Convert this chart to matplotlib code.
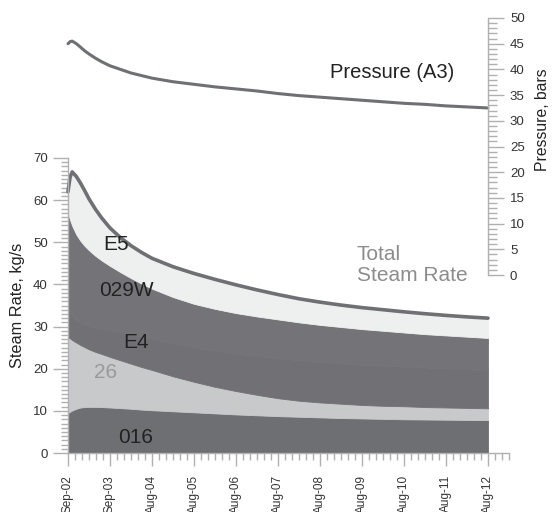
import matplotlib
matplotlib.use("Agg")
import matplotlib.pyplot as plt
from matplotlib.ticker import MultipleLocator, FixedLocator
import numpy as np

plt.rcParams['font.family'] = ['Liberation Sans', 'DejaVu Sans']

# time in years since Sep-02
t = [0, 0.05, 0.1, 0.2, 0.3, 0.4, 0.5, 0.65, 0.8, 1, 1.25, 1.5, 1.75, 2, 2.5,
     3, 3.5, 4, 4.5, 5, 5.5, 6, 6.5, 7, 7.5, 8, 8.5, 9, 9.5, 10]
# cumulative tops (kg/s)
top_016 = [9.5, 9.8, 10.1, 10.5, 10.8, 10.9, 10.95, 10.95, 10.9, 10.8, 10.65, 10.5, 10.3, 10.15, 9.9,
           9.65, 9.4, 9.15, 8.95, 8.75, 8.6, 8.45, 8.3, 8.2, 8.1, 8.0, 7.95, 7.9, 7.85, 7.8]
top_26 = [27.5, 27.2, 26.8, 26.2, 25.6, 25.1, 24.6, 24.0, 23.5, 22.8, 22.0, 21.2, 20.4, 19.7, 18.2,
          16.9, 15.7, 14.7, 13.8, 13.0, 12.4, 12.0, 11.7, 11.4, 11.2, 11.1, 10.9, 10.8, 10.7, 10.6]
top_E4 = [34.0, 33.3, 32.6, 31.6, 31.0, 30.6, 30.2, 29.8, 29.5, 29.1, 28.6, 28.1, 27.6, 27.1, 26.0,
          25.1, 24.3, 23.6, 23.0, 22.5, 22.0, 21.6, 21.3, 21.0, 20.7, 20.5, 20.3, 20.1, 19.9, 19.8]
top_029W = [57.0, 55.3, 53.9, 51.8, 50.3, 49.1, 48.1, 46.8, 45.7, 44.4, 42.9, 41.5, 40.2, 39.0, 37.0,
            35.4, 34.2, 33.2, 32.4, 31.7, 31.0, 30.4, 29.9, 29.4, 29.0, 28.6, 28.2, 27.9, 27.6, 27.3]
total = [62.0, 65.5, 66.7, 65.6, 64.0, 62.2, 60.3, 57.9, 55.8, 53.4, 51.1, 49.2, 47.6, 46.2, 44.2,
         42.6, 41.2, 39.9, 38.7, 37.6, 36.6, 35.8, 35.1, 34.5, 34.0, 33.5, 33.05, 32.65, 32.3, 32.0]

t_p = [0, 0.05, 0.1, 0.2, 0.3, 0.4, 0.5, 0.65, 0.8, 1, 1.25, 1.5, 1.75, 2, 2.5,
       3, 3.5, 4, 4.5, 5, 5.5, 6, 6.5, 7, 7.5, 8, 8.5, 9, 9.5, 10]
pressure = [45.0, 45.4, 45.5, 45.0, 44.3, 43.6, 43.0, 42.2, 41.5, 40.7, 40.0, 39.3, 38.8, 38.3, 37.6,
            37.1, 36.6, 36.2, 35.8, 35.3, 34.9, 34.6, 34.3, 34.0, 33.7, 33.4, 33.2, 32.9, 32.7, 32.5]

xtick_labels = ['Sep-02', 'Sep-03', 'Aug-04', 'Aug-05', 'Aug-06', 'Aug-07',
                'Aug-08', 'Aug-09', 'Aug-10', 'Aug-11', 'Aug-12']

layers = ['016', '26', 'E4', '029W', 'E5']
colors = ['#6e6f72', '#c8c9cb', '#717175', '#747478', '#eeefef']

v016 = np.array(top_016)
v26 = np.array(top_26) - np.array(top_016)
vE4 = np.array(top_E4) - np.array(top_26)
v029W = np.array(top_029W) - np.array(top_E4)
vE5 = np.array(total) - np.array(top_029W)

W, H = 554, 512
fig = plt.figure(figsize=(W / 100, H / 100), dpi=100)

ax = fig.add_axes([68 / W, (H - 453) / H, 441 / W, 295 / H])
polys = ax.stackplot(t, v016, v26, vE4, v029W, vE5, colors=colors, labels=layers)
for p, c in zip(polys, colors):
    p.set_edgecolor(c)
    p.set_linewidth(0.6)
ax.plot(t, total, color='#6f7073', lw=2.6, solid_capstyle='round',
        solid_joinstyle='round', clip_on=False)
ax.set_xlim(0, 10.5)
ax.set_ylim(0, 70)

spine_c = '#b0b0b0'
for s in ['top', 'right']:
    ax.spines[s].set_visible(False)
for s in ['left', 'bottom']:
    ax.spines[s].set_color(spine_c)
    ax.spines[s].set_linewidth(1)

ax.xaxis.set_major_locator(FixedLocator(list(range(len(xtick_labels)))))
ax.set_xticklabels(xtick_labels, rotation=90)
ax.xaxis.set_minor_locator(MultipleLocator(1 / 6))
ax.yaxis.set_major_locator(MultipleLocator(10))
ax.yaxis.set_minor_locator(MultipleLocator(1))
ax.tick_params(axis='x', which='major', length=9.4, width=1, color=spine_c,
               labelsize=8.5, labelcolor='#333333', pad=6.5)
ax.tick_params(axis='x', which='minor', length=5, width=1, color=spine_c)
ax.tick_params(axis='y', which='major', length=11, width=1, color=spine_c,
               labelsize=9.5, labelcolor='#333333', pad=3.5)
ax.tick_params(axis='y', which='minor', length=5, width=1, color=spine_c)
ax.set_ylabel('Steam Rate, kg/s', fontsize=11.7, color='#222222')
ax.yaxis.set_label_coords(-0.097, 0.5)

lab_kw = dict(fontsize=15, ha='center', va='center')
ax.text(1.155, 49.4, 'E5', color='#222222', **lab_kw)
ax.text(1.39, 38.6, '029W', color='#222222', **lab_kw)
ax.text(1.63, 26.2, 'E4', color='#222222', **lab_kw)
ax.text(0.905, 19.2, '26', color='#9a9a9a', **lab_kw)
ax.text(1.62, 3.7, '016', color='#222222', **lab_kw)
ax.text(6.88, 45.7, 'Total', color='#8c8c8c', fontsize=15, ha='left', va='baseline')
ax.text(6.88, 40.8, 'Steam Rate', color='#8c8c8c', fontsize=15, ha='left', va='baseline')

# pressure axes
ax2 = fig.add_axes([68 / W, (H - 275) / H, 420 / W, 257 / H])
ax2.patch.set_alpha(0)
ax2.plot(t_p, pressure, color='#6f7073', lw=2.2, solid_capstyle='round',
         solid_joinstyle='round', clip_on=False)
ax2.set_xlim(0, 10)
ax2.set_ylim(0, 50)
for s in ['top', 'left', 'bottom']:
    ax2.spines[s].set_visible(False)
ax2.spines['right'].set_color(spine_c)
ax2.spines['right'].set_linewidth(1)
ax2.set_xticks([])
ax2.yaxis.set_ticks_position('right')
ax2.yaxis.set_label_position('right')
ax2.yaxis.set_major_locator(MultipleLocator(5))
ax2.yaxis.set_minor_locator(MultipleLocator(1))
ax2.tick_params(axis='y', which='major', length=11.5, width=1, color=spine_c,
                labelsize=9.5, labelcolor='#333333', pad=4.3)
ax2.tick_params(axis='y', which='minor', length=6.5, width=1, color=spine_c)
ax2.set_ylabel('Pressure, bars', fontsize=11.3, color='#222222')
ax2.yaxis.set_label_coords(1.112, 0.603)
ax2.text(6.24, 38.3, 'Pressure (A3)', fontsize=14.5, color='#222222', ha='left', va='baseline')

fig.savefig('out.png', dpi=100)
